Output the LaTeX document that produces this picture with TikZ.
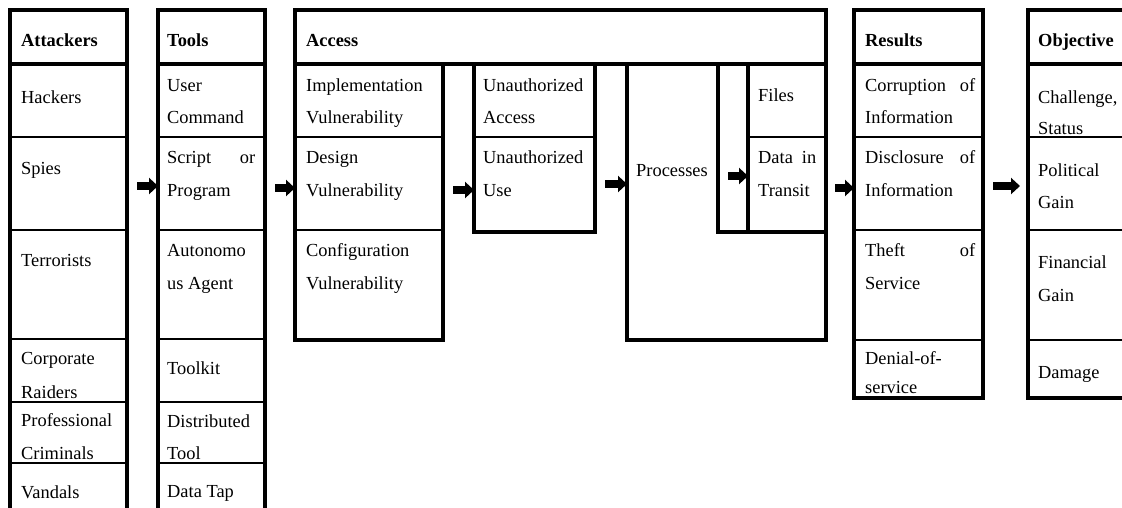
\documentclass[tikz,border=0pt]{standalone}
\usepackage{fontspec}
\setmainfont{Liberation Serif}
\usetikzlibrary{arrows.meta}
\tikzset{
  col/.style={draw, line width=3.2pt, anchor=north west, inner sep=0pt, outer sep=0pt},
  thickrule/.style={line width=3.2pt},
  cellrule/.style={line width=1.3pt},
  txt/.style={anchor=base west, inner sep=0pt, font=\fontsize{18.4}{22}\selectfont},
  hd/.style={anchor=base west, inner sep=0pt, font=\fontsize{18.4}{22}\selectfont\bfseries},
  flow/.style={line width=7.5pt, -{Triangle[length=9pt,width=16pt]}},
}
% horizontal divider across a named column box
\newcommand\cellline[3][cellrule]{\draw[#1] (#2.west |- 0,#3) -- (#2.east |- 0,#3);}
\begin{document}
\begin{tikzpicture}[x=1pt,y=-1pt]
\useasboundingbox (0,0) rectangle (1122,507);
\clip (0,0) rectangle (1122,507);

% ---- column boxes ----
\node[col, minimum width=117pt, minimum height=520pt] (att) at (10,10) {};
\node[col, minimum width=107pt, minimum height=520pt] (tools) at (158,10) {};
\node[col, minimum width=531pt, minimum height=54pt] (acchd) at (295,10) {};
\node[col, minimum width=148pt, minimum height=276pt] (vuln) at (295,64) {};
\node[col, minimum width=121pt, minimum height=168pt] (unauth) at (474,64) {};
\node[col, minimum width=199pt, minimum height=276pt] (proc) at (627,64) {};
\node[col, minimum width=30pt, minimum height=168pt] (strip) at (718,64) {};
\node[col, minimum width=78pt, minimum height=168pt] (target) at (748,64) {};
\node[col, minimum width=129pt, minimum height=388pt] (res) at (854,10) {};
\node[col, minimum width=140pt, minimum height=388pt] (obj) at (1028,10) {};

% ---- header rules and cell dividers ----
\cellline[thickrule]{att}{64}
\cellline[thickrule]{tools}{64}
\cellline[thickrule]{res}{64}
\cellline[thickrule]{obj}{64}
\foreach \yy in {137,230,339,402,463} {\cellline{att}{\yy}\cellline{tools}{\yy}}
\foreach \yy in {137,230} {\cellline{vuln}{\yy}}
\cellline{unauth}{137}
\cellline{target}{137}
\foreach \yy in {137,230,340} {\cellline{res}{\yy}\cellline{obj}{\yy}}

% ---- Attackers ----
\node[hd]  (a0) at (21,46) {Attackers};
\node[txt] (a1) at (21,103) {Hackers};
\node[txt] (a2) at (21,174) {Spies};
\node[txt] (a3) at (21,266) {Terrorists};
\node[txt] (a4) at (21,364) {Corporate};
\node[txt] (a4b) at (21,398) {Raiders};
\node[txt] (a5) at (21,426) {Professional};
\node[txt] (a5b) at (21,459) {Criminals};
\node[txt] (a6) at (21,498) {Vandals};

% ---- Tools ----
\node[hd]  (b0) at (167,46) {Tools};
\node[txt] (b1) at (167,91) {User};
\node[txt] (b1b) at (167,123) {Command};
\node[txt] (b2) at (167,163) {\hbox to 88pt{Script\hfill or}};
\node[txt] (b2b) at (167,196) {Program};
\node[txt] (b3) at (167,256) {Autonomo};
\node[txt] (b3b) at (167,289) {us Agent};
\node[txt] (b4) at (167,374) {Toolkit};
\node[txt] (b5) at (167,427) {Distributed};
\node[txt] (b5b) at (167,459) {Tool};
\node[txt] (b6) at (167,497) {Data Tap};

% ---- Access ----
\node[hd]  (c0) at (306,46) {Access};
\node[txt] (c1) at (306,91) {Implementation};
\node[txt] (c1b) at (306,123) {Vulnerability};
\node[txt] (c2) at (306,163) {Design};
\node[txt] (c2b) at (306,196) {Vulnerability};
\node[txt] (c3) at (306,256) {Configuration};
\node[txt] (c3b) at (306,289) {Vulnerability};
\node[txt] (d1) at (483,91) {Unauthorized};
\node[txt] (d1b) at (483,123) {Access};
\node[txt] (d2) at (483,163) {Unauthorized};
\node[txt] (d2b) at (483,196) {Use};
\node[txt] (e1) at (636,176) {Processes};
\node[txt] (f1) at (758,101) {Files};
\node[txt] (f2) at (758,163) {\hbox to 58pt{Data\hfill in}};
\node[txt] (f2b) at (758,196) {Transit};

% ---- Results ----
\node[hd]  (r0) at (865,46) {Results};
\node[txt] (r1) at (865,91) {\hbox to 110pt{Corruption\hfill of}};
\node[txt] (r1b) at (865,123) {Information};
\node[txt] (r2) at (865,163) {\hbox to 110pt{Disclosure\hfill of}};
\node[txt] (r2b) at (865,196) {Information};
\node[txt] (r3) at (865,256) {\hbox to 110pt{Theft\hfill of}};
\node[txt] (r3b) at (865,289) {Service};
\node[txt] (r4) at (865,364) {Denial-of-};
\node[txt] (r4b) at (865,393) {service};

% ---- Objective ----
\node[hd]  (o0) at (1038,46) {Objective};
\node[txt] (o1) at (1038,103) {Challenge,};
\node[txt] (o1b) at (1038,134) {Status};
\node[txt] (o2) at (1038,176) {Political};
\node[txt] (o2b) at (1038,208) {Gain};
\node[txt] (o3) at (1038,268) {Financial};
\node[txt] (o3b) at (1038,301) {Gain};
\node[txt] (o4) at (1038,378) {Damage};

% ---- flow arrows ----
\coordinate (s1) at (137,186);
\coordinate (s2) at (275,188);
\coordinate (s3) at (453,190);
\coordinate (s4) at (605,184);
\coordinate (s5) at (728,176);
\coordinate (s6) at (835,188);
\coordinate (s7) at (993,186);
\coordinate (e7) at (1020,186);
\draw[flow] (s1) -- (s1 -| tools.west);
\draw[flow] (s2) -- (s2 -| vuln.west);
\draw[flow] (s3) -- (s3 -| unauth.west);
\draw[flow] (s4) -- (s4 -| proc.west);
\draw[flow] (s5) -- (s5 -| target.west);
\draw[flow] (s6) -- (s6 -| res.west);
\draw[flow] (s7) -- (e7);
\end{tikzpicture}
\end{document}
